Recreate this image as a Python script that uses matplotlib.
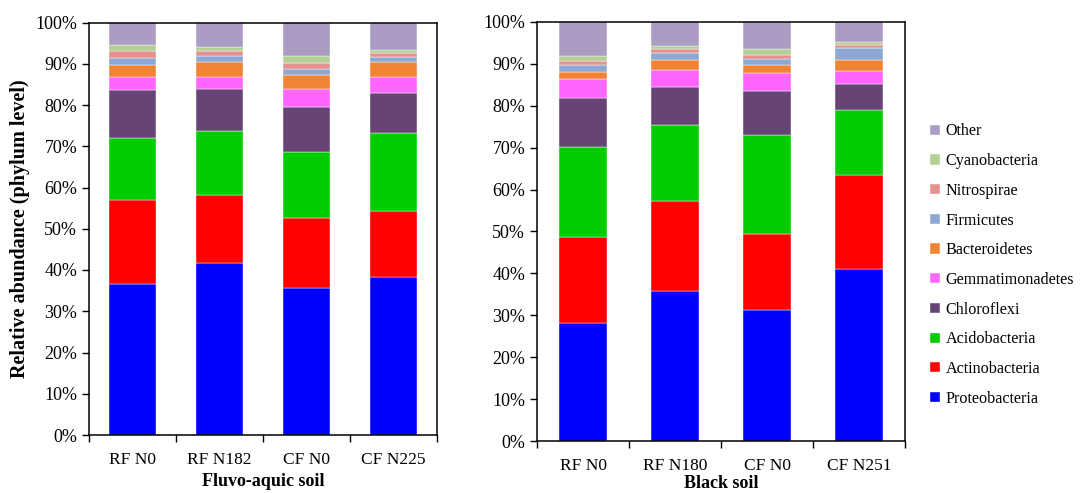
import numpy as np
import matplotlib
matplotlib.use("Agg")
import matplotlib.pyplot as plt
from matplotlib.ticker import PercentFormatter, FixedLocator

plt.rcParams['font.family'] = ['Liberation Serif', 'DejaVu Serif']

# phyla from bottom to top of each stack
phyla = ['Proteobacteria', 'Actinobacteria', 'Acidobacteria', 'Chloroflexi',
         'Gemmatimonadetes', 'Bacteroidetes', 'Firmicutes', 'Nitrospirae',
         'Cyanobacteria', 'Other']
colors = ['#0000FF', '#FF0000', '#00CC00', '#674476', '#FF66FF',
          '#F08434', '#8DA8D2', '#E4918F', '#B2D095', '#AA9CC3']

fluvo_labels = ['RF N0', 'RF N182', 'CF N0', 'CF N225']
black_labels = ['RF N0', 'RF N180', 'CF N0', 'CF N251']

# relative abundance (%) per treatment, same order as phyla
fluvo_rf_n0 = [36.7, 20.2, 15.2, 11.5, 3.2, 3.0, 1.7, 1.7, 1.4, 5.4]
fluvo_rf_n182 = [41.8, 16.3, 15.5, 10.2, 3.0, 3.6, 1.5, 1.3, 0.8, 6.0]
fluvo_cf_n0 = [35.7, 16.8, 16.0, 10.9, 4.4, 3.4, 1.5, 1.6, 1.6, 8.1]
fluvo_cf_n225 = [38.4, 16.0, 18.7, 9.7, 4.1, 3.5, 1.2, 1.1, 0.7, 6.6]

black_rf_n0 = [28.2, 20.6, 21.3, 11.7, 4.6, 1.7, 1.6, 1.1, 1.1, 8.1]
black_rf_n180 = [35.7, 21.6, 18.2, 9.1, 3.9, 2.4, 1.7, 1.0, 0.7, 5.7]
black_cf_n0 = [31.3, 18.2, 23.5, 10.5, 4.3, 1.9, 1.5, 0.9, 1.5, 6.4]
black_cf_n251 = [41.0, 22.4, 15.6, 6.1, 3.1, 2.7, 2.8, 0.9, 0.6, 4.8]

W, H = 1088, 493
fig = plt.figure(figsize=(W / 100, H / 100), dpi=100)

def px_axes(x0, y0, x1, y1):
    return fig.add_axes([x0 / W, 1 - y1 / H, (x1 - x0) / W, (y1 - y0) / H])

ax1 = px_axes(89, 22.5, 437, 435)
ax2 = px_axes(537, 22, 905, 441)

def stacked(ax, labels, data, xlabel, xlabelpad):
    data = np.array(data).T  # rows = phyla
    x = np.arange(len(labels))
    bottom = np.zeros(len(labels))
    handles = []
    for name, col, vals in zip(phyla, colors, data):
        b = ax.bar(x, vals, bottom=bottom, width=0.53, color=col,
                   edgecolor='white', linewidth=0.3, label=name)
        handles.append(b)
        bottom += vals
    ax.set_xlim(-0.5, len(labels) - 0.5)
    ax.set_ylim(0, 100)
    ax.set_yticks(np.arange(0, 101, 10))
    ax.yaxis.set_major_formatter(PercentFormatter(decimals=0))
    ax.set_xticks(x)
    ax.set_xticklabels(labels)
    ax.xaxis.set_minor_locator(FixedLocator(np.arange(-0.5, len(labels), 1)))
    ax.tick_params(axis='x', which='major', length=0, pad=12, labelsize=12.5)
    ax.tick_params(axis='x', which='minor', length=5, direction='out', width=1)
    ax.tick_params(axis='y', length=5, direction='out', width=1, labelsize=13)
    for s in ax.spines.values():
        s.set_linewidth(1.1)
    ax.set_xlabel(xlabel, fontsize=13, fontweight='bold', labelpad=xlabelpad)
    return handles

handles = stacked(ax1, fluvo_labels,
                  [fluvo_rf_n0, fluvo_rf_n182, fluvo_cf_n0, fluvo_cf_n225],
                  'Fluvo-aquic soil', 4)
stacked(ax2, black_labels,
        [black_rf_n0, black_rf_n180, black_cf_n0, black_cf_n251],
        'Black soil', 1)
ax1.set_ylabel('Relative abundance (phylum level)', fontsize=14.5,
               fontweight='bold', labelpad=4)

fig.legend(handles[::-1], phyla[::-1], loc='upper left',
           bbox_to_anchor=(924 / W, 1 - 117 / H), frameon=False,
           fontsize=11.6, handlelength=0.6, handleheight=0.6,
           handletextpad=0.35, labelspacing=0.85, borderaxespad=0)

fig.savefig('out.png', dpi=100)
